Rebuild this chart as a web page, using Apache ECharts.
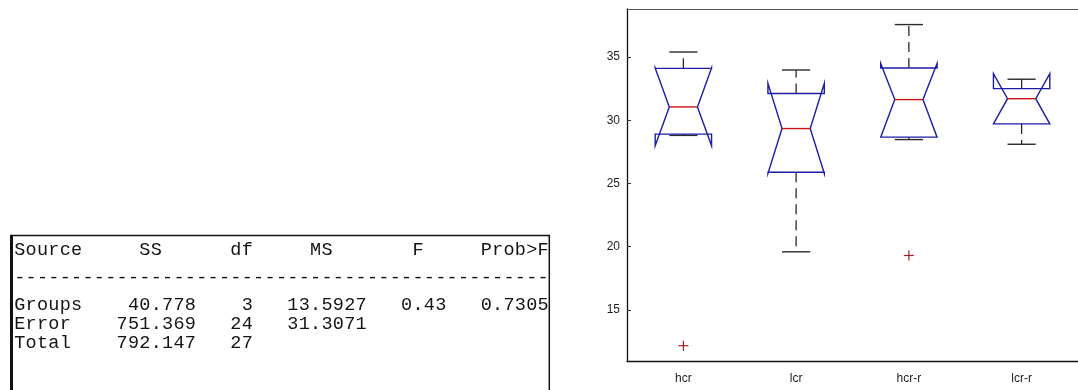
<!DOCTYPE html>
<html>
<head>
<meta charset="utf-8">
<title>One-way ANOVA: hcr / lcr</title>
<script src="https://cdn.jsdelivr.net/npm/echarts@6.0.0/dist/echarts.min.js"></script>
<style>
  html, body { margin: 0; padding: 0; background: #ffffff; }
  #chart { width: 1078px; height: 390px; }
</style>
</head>
<body>
<div id="chart"></div>
<script>
// Groups and their notched-box statistics
const categories   = ['hcr', 'lcr', 'hcr-r', 'lcr-r'];
const lowerWhisker = [28.80, 19.60, 28.47, 28.10];
const q1           = [28.90, 25.89, 28.66, 29.71];
const median       = [31.05, 29.34, 31.63, 31.70];
const q3           = [34.10, 32.11, 34.13, 32.50];
const upperWhisker = [35.39, 33.97, 37.56, 33.24];
const notchLow     = [27.98, 25.79, 28.66, 29.71];
const notchHigh    = [34.12, 32.92, 34.48, 33.68];
// Outliers as [group index, value]
const outliers = [[0, 12.18], [2, 19.31]];
const yTicks = [15, 20, 25, 30, 35];
const yMin = 10.97, yMax = 38.79;

// ANOVA table
const tableHeader = ['Source', 'SS', 'df', 'MS', 'F', 'Prob>F'];
const sources = ['Groups', 'Error', 'Total'];
const ssValues = ['40.778', '751.369', '792.147'];
const dfValues = ['3', '24', '27'];
const msValues = ['13.5927', '31.3071', ''];
const fValues = ['0.43', '', ''];
const pValues = ['0.7305', '', ''];

// fixed-width column layout of the printed table
const headerStart = [0, 11, 19, 26, 35, 41];
const valueEnd = [16, 21, 31, 38, 47];
const lineWidthChars = 47;

function placeAt(line, text, col) {
  while (line.length < col) line += ' ';
  return line + text;
}
function headerLine() {
  let s = '';
  tableHeader.forEach((h, k) => { s = placeAt(s, h, headerStart[k]); });
  return s;
}
function valueLine(r) {
  let s = sources[r];
  const cols = [ssValues[r], dfValues[r], msValues[r], fValues[r], pValues[r]];
  cols.forEach((v, k) => { if (v) s = placeAt(s, v, valueEnd[k] - v.length); });
  return s;
}

const boxData = categories.map((c, i) => [
  i, lowerWhisker[i], q1[i], median[i], q3[i], upperWhisker[i], notchLow[i], notchHigh[i]
]);

const boxBlue = '#1c1ca4';
const medianRed = '#cc1414';
const whiskerInk = '#2a2a2a';

function renderBox(params, api) {
  const i = api.value(0);
  const band = api.size([1, 0])[0];
  const x = api.coord([i, 0])[0];
  const w = band * 0.25;
  const y = v => api.coord([i, v])[1];
  const lw = y(api.value(1)), b1 = y(api.value(2)), md = y(api.value(3)),
        b3 = y(api.value(4)), uw = y(api.value(5)), nl = y(api.value(6)), nh = y(api.value(7));
  const dashed = { stroke: whiskerInk, lineWidth: 1.3, lineDash: [10, 6] };
  const solid = { stroke: whiskerInk, lineWidth: 1.4 };
  return {
    type: 'group',
    children: [
      { type: 'line', shape: { x1: x, y1: b3, x2: x, y2: uw }, style: dashed },
      { type: 'line', shape: { x1: x, y1: b1, x2: x, y2: lw }, style: dashed },
      { type: 'line', shape: { x1: x - w / 2, y1: uw, x2: x + w / 2, y2: uw }, style: solid },
      { type: 'line', shape: { x1: x - w / 2, y1: lw, x2: x + w / 2, y2: lw }, style: solid },
      {
        type: 'polygon',
        shape: {
          points: [
            [x - w, b1], [x - w, nl], [x - w / 2, md], [x - w, nh], [x - w, b3],
            [x + w, b3], [x + w, nh], [x + w / 2, md], [x + w, nl], [x + w, b1]
          ]
        },
        style: { fill: 'none', stroke: boxBlue, lineWidth: 1.4 }
      },
      { type: 'line', shape: { x1: x - w / 2, y1: md, x2: x + w / 2, y2: md },
        style: { stroke: medianRed, lineWidth: 1.4 } }
    ]
  };
}

function renderOutlier(params, api) {
  const p = api.coord([api.value(0), api.value(1)]);
  const s = 5;
  const st = { stroke: '#a82020', lineWidth: 1.2 };
  return {
    type: 'group',
    children: [
      { type: 'line', shape: { x1: p[0] - s, y1: p[1], x2: p[0] + s, y2: p[1] }, style: st },
      { type: 'line', shape: { x1: p[0], y1: p[1] - s, x2: p[0], y2: p[1] + s }, style: st }
    ]
  };
}

// table drawn as monospaced text on a fixed character grid inside a frame
const monoFont = '18.5px "Liberation Mono", "DejaVu Sans Mono", monospace';
const textX = 14;
const charW = 11.38;
const tableRowsY = [250.5, 278, 305, 324.5, 343.5];
const tableLines = [headerLine(), '-'.repeat(lineWidthChars)].concat(sources.map((s, r) => valueLine(r)));
const tableGraphics = [];
tableLines.forEach((line, k) => {
  for (let c = 0; c < line.length; c++) {
    if (line[c] === ' ') continue;
    tableGraphics.push({
      type: 'text',
      x: textX + (c + 0.5) * charW,
      y: tableRowsY[k],
      style: {
        text: line[c],
        font: monoFont,
        fill: '#141414',
        align: 'center',
        verticalAlign: 'middle'
      }
    });
  }
});
const frame = [
  { type: 'line', shape: { x1: 10, y1: 235.5, x2: 550, y2: 235.5 }, style: { stroke: '#111', lineWidth: 1.5 } },
  { type: 'line', shape: { x1: 11.5, y1: 235, x2: 11.5, y2: 390 }, style: { stroke: '#111', lineWidth: 3 } },
  { type: 'line', shape: { x1: 549.3, y1: 235, x2: 549.3, y2: 390 }, style: { stroke: '#111', lineWidth: 1.5 } }
];

const axisText = { color: '#1e1e1e', fontSize: 12, fontFamily: '"Liberation Sans", Arial, sans-serif' };

const chart = echarts.init(document.getElementById('chart'), null, { renderer: 'canvas' });
chart.setOption({
  animation: false,
  backgroundColor: '#ffffff',
  grid: { left: 627, top: 9, right: -6, bottom: 29, containLabel: false },
  xAxis: [
    {
      type: 'category',
      data: categories,
      position: 'bottom',
      boundaryGap: true,
      axisLine: { lineStyle: { color: '#111', width: 1.3 } },
      axisTick: { inside: true, alignWithLabel: true, length: 5, lineStyle: { color: '#333' } },
      axisLabel: Object.assign({ margin: 12 }, axisText),
      splitLine: { show: false }
    },
    {
      type: 'category',
      data: categories,
      position: 'top',
      boundaryGap: true,
      axisLine: { lineStyle: { color: '#555', width: 1 } },
      axisTick: { inside: true, alignWithLabel: true, length: 5, lineStyle: { color: '#333' } },
      axisLabel: { show: false },
      splitLine: { show: false }
    }
  ],
  yAxis: {
    type: 'value',
    min: yMin,
    max: yMax,
    axisLine: { show: true, lineStyle: { color: '#111', width: 1.3 } },
    axisTick: { show: true, inside: true, length: 4, customValues: yTicks, lineStyle: { color: '#333' } },
    axisLabel: Object.assign({ margin: 7, customValues: yTicks }, axisText),
    splitLine: { show: false }
  },
  series: [
    {
      type: 'custom',
      name: 'box',
      renderItem: renderBox,
      encode: { x: 0, y: [1, 2, 3, 4, 5, 6, 7] },
      data: boxData,
      clip: false,
      z: 3
    },
    {
      type: 'custom',
      name: 'outliers',
      renderItem: renderOutlier,
      encode: { x: 0, y: 1 },
      data: outliers,
      z: 4
    }
  ],
  graphic: tableGraphics.concat(frame)
});
</script>
</body>
</html>
